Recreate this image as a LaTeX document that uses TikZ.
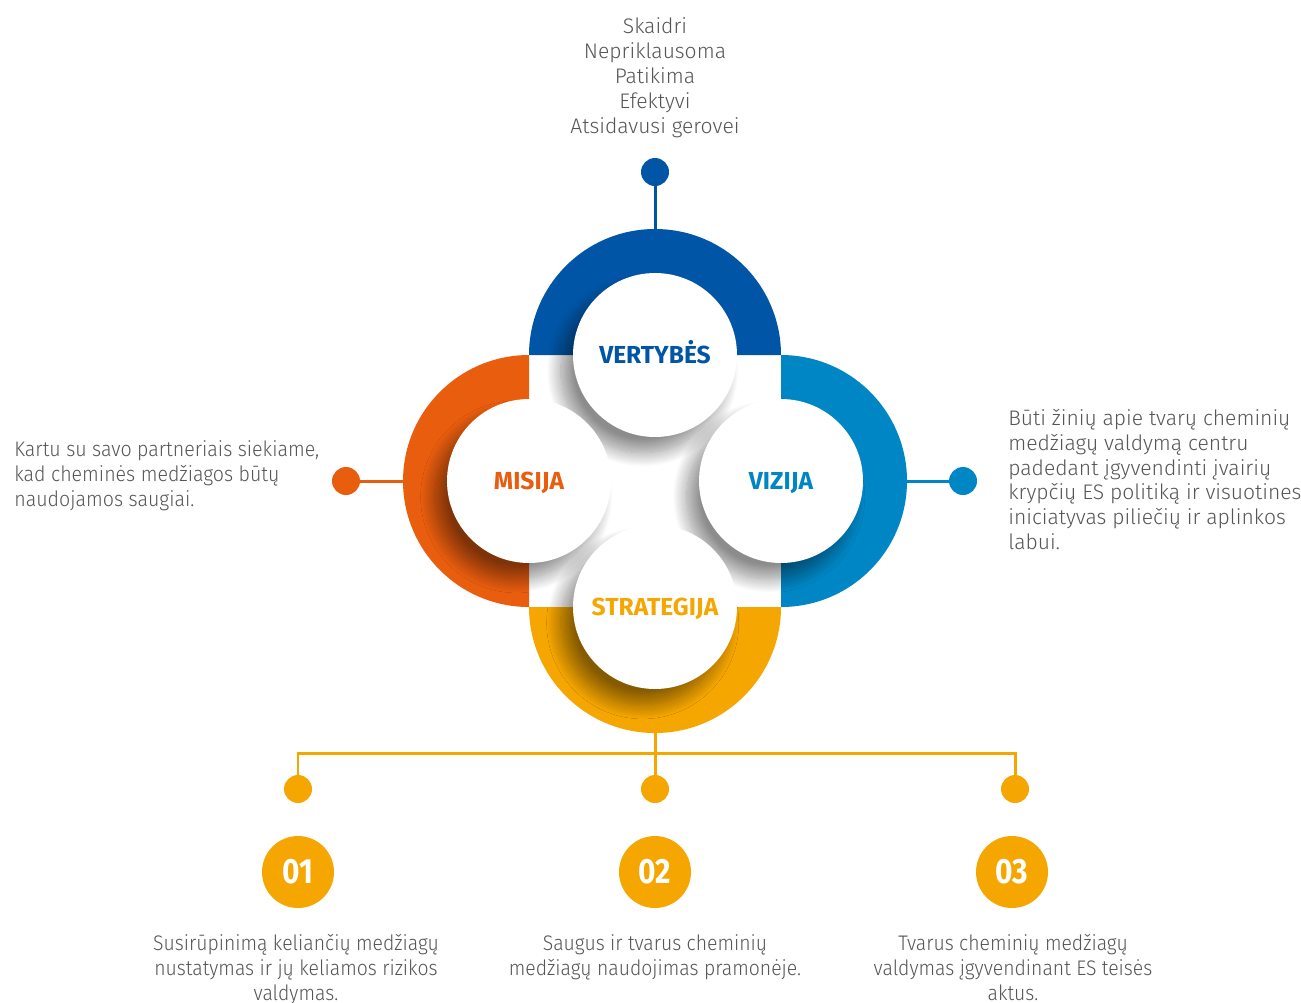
\documentclass[tikz,border=0pt]{standalone}
\usepackage{fontspec}
\setmainfont{Fira Sans Light}[BoldFont=Fira Sans Bold]
\newfontfamily\narrowfont{Fira Sans Light}[FakeStretch=0.92]
\newfontfamily\leftfont{Fira Sans Light}[FakeStretch=0.93]
\newfontfamily\numfont{Fira Sans Bold}[FakeStretch=0.85]
\usetikzlibrary{shadows.blur}
\definecolor{vblue}{RGB}{0,85,166}
\definecolor{lblue}{RGB}{0,134,196}
\definecolor{myorange}{RGB}{233,93,15}
\definecolor{myyellow}{RGB}{245,166,0}
\definecolor{txtgray}{RGB}{85,85,85}
\begin{document}
\begin{tikzpicture}[x=0.02cm,y=0.02cm,
    disc/.style={circle,fill=white,minimum size=3.28cm,inner sep=0pt,text height=9.6pt,text depth=0pt,
      font=\bfseries\fontsize{14}{16}\selectfont,
      blur shadow={shadow xshift=-7pt,shadow yshift=-9pt,shadow blur radius=8pt,shadow blur steps=20,shadow opacity=45}},
    dot/.style={circle,minimum size=0.56cm,inner sep=0pt},
    link/.style={line width=1.7pt},
    num/.style={circle,fill=myyellow,minimum size=1.44cm,inner sep=0pt,text=white,font=\numfont\fontsize{20}{22}\selectfont},
    txt/.style={text=txtgray,font=\fontsize{12}{14.2}\selectfont,inner sep=0pt},
    ntxt/.style={text=txtgray,font=\narrowfont\fontsize{12}{14.2}\selectfont,inner sep=0pt,align=center}]
    \useasboundingbox (0,0) rectangle (1301,-1002);
    \fill[vblue] (529,-355) arc[start angle=180,end angle=0,radius=126] -- cycle;
    \fill[myorange] (529,-355) arc[start angle=90,end angle=270,radius=126] -- cycle;
    \fill[lblue] (781,-607) arc[start angle=-90,end angle=90,radius=126] -- cycle;
    \fill[myyellow] (781,-607) arc[start angle=0,end angle=-180,radius=126] -- cycle;
    \node[disc,text=vblue] (vert) at (655,-355) {VERTYBĖS};
    \node[disc,text=lblue] (viz) at (781,-481) {VIZIJA};
    \node[disc,text=myorange] (mis) at (529,-481) {MISIJA};
    \node[disc,text=myyellow] (str) at (655,-607) {STRATEGIJA};
    \coordinate (vtop) at (655,-229);
    \coordinate (mleft) at (403,-481);
    \coordinate (vright) at (907,-481);
    \coordinate (sbot) at (655,-733);
    \coordinate (sjoin) at (655,-753);
    \node[dot,fill=vblue] (vdot) at (655,-172) {};
    \node[dot,fill=myorange] (mdot) at (346,-481) {};
    \node[dot,fill=lblue] (zdot) at (963,-481) {};
    \node[dot,fill=myyellow] (s1) at (298,-789) {};
    \node[dot,fill=myyellow] (s2) at (655,-789) {};
    \node[dot,fill=myyellow] (s3) at (1015,-789) {};
    \draw[link,vblue] (vdot) -- (vtop);
    \draw[link,myorange] (mdot) -- (mleft);
    \draw[link,lblue] (vright) -- (zdot);
    \draw[link,myyellow] (sbot) -- (s2);
    \draw[link,myyellow] (s1) |- (sjoin) -| (s3);
    \node[txt,align=center] (values) at (655,-78) {Skaidri\\Nepriklausoma\\Patikima\\Efektyvi\\Atsidavusi gerovei};
    \node[txt,font=\leftfont\fontsize{12}{14.2}\selectfont,align=left,anchor=west] (mission) at (14,-476) {Kartu su savo partneriais siekiame,\\kad cheminės medžiagos būtų\\naudojamos saugiai.};
    \node[txt,align=left,anchor=west] (vision) at (1008,-479.5) {Būti žinių apie tvarų cheminių\\medžiagų valdymą centru\\padedant įgyvendinti įvairių\\krypčių ES politiką ir visuotines\\iniciatyvas piliečių ir aplinkos\\labui.};
    \node[num] (n1) at (298,-872) {01};
    \node[num] (n2) at (655,-872) {02};
    \node[num] (n3) at (1012,-872) {03};
    \node[ntxt,anchor=north] (goal1) at (296,-934) {Susirūpinimą keliančių medžiagų\\nustatymas ir jų keliamos rizikos\\valdymas.};
    \node[ntxt,anchor=north] (goal2) at (655,-934) {Saugus ir tvarus cheminių\\medžiagų naudojimas pramonėje.};
    \node[ntxt,anchor=north] (goal3) at (1013,-934) {Tvarus cheminių medžiagų\\valdymas įgyvendinant ES teisės\\aktus.};
\end{tikzpicture}
\end{document}
